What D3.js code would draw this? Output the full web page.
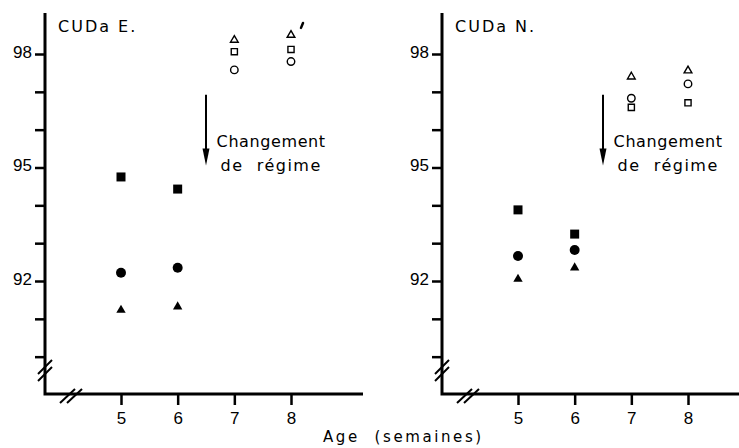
<!DOCTYPE html>
<html>
<head>
<meta charset="utf-8">
<script src="https://cdn.jsdelivr.net/npm/d3@7"></script>
<style>
    body { margin: 0; background: #fff; }
    svg { display: block; font-family: "DejaVu Sans", sans-serif; }
    .axis text { font-size: 17px; fill: #000; }
    .axis line { stroke: #000; stroke-width: 2.5px; }
</style>
</head>
<body>
<div id="chart"></div>
<script>

// age (semaines)
const agesAvant = [5, 6];
const agesApres = [7, 8];
const xTicks = [5, 6, 7, 8];
const yTicks = [90, 91, 92, 93, 94, 95, 96, 97, 98];
const yLabels = [92, 95, 98];
const titres = ["CUDa E.", "CUDa N."];

// CUDa E. - avant changement (symboles pleins)
const E_carre = [94.75, 94.43];
const E_rond = [92.22, 92.35];
const E_triangle = [91.23, 91.32];
// CUDa E. - apres changement (symboles vides)
const E_triangleVide = [98.37, 98.5];
const E_carreVide = [98.06, 98.12];
const E_rondVide = [97.58, 97.8];

// CUDa N.
const N_carre = [93.88, 93.24];
const N_rond = [92.66, 92.82];
const N_triangle = [92.05, 92.35];
const N_triangleVide = [97.4, 97.56];
const N_carreVide = [96.59, 96.71];
const N_rondVide = [96.83, 97.21];

let width = 739, height = 448;

let svg = d3.select("#chart").append("svg")
    .attr("width", width)
    .attr("height", height);

// shared scales (relative to each panel's origin)
let x = d3.scaleLinear().domain([5, 8]).range([76, 246]);
let y = d3.scaleLinear().domain([92, 98]).range([281, 54]);
let yTop = 13, yBottom = 394, xEnd = 318;

function serie(ages, vals, forme, plein) {
    return ages.map((a, i) => ({age: a, val: vals[i], forme: forme, plein: plein}));
}

let panels = [
    {x0: 45, titre: titres[0], points: [].concat(
        serie(agesAvant, E_carre, "carre", true),
        serie(agesAvant, E_rond, "rond", true),
        serie(agesAvant, E_triangle, "triangle", true),
        serie(agesApres, E_triangleVide, "triangle", false),
        serie(agesApres, E_carreVide, "carre", false),
        serie(agesApres, E_rondVide, "rond", false)), trace: true},
    {x0: 442, titre: titres[1], points: [].concat(
        serie(agesAvant, N_carre, "carre", true),
        serie(agesAvant, N_rond, "rond", true),
        serie(agesAvant, N_triangle, "triangle", true),
        serie(agesApres, N_triangleVide, "triangle", false),
        serie(agesApres, N_carreVide, "carre", false),
        serie(agesApres, N_rondVide, "rond", false)), trace: false}
];

let formes = {carre: d3.symbolSquare, rond: d3.symbolCircle, triangle: d3.symbolTriangle};
let taillesPleines = {carre: 81, rond: 78, triangle: 38};
let taillesVides = {carre: 38, rond: 44, triangle: 26};

panels.forEach(function (p) {
    let g = svg.append("g").attr("transform", `translate(${p.x0},0)`);

    // y axis
    let yAxis = d3.axisLeft(y)
        .tickValues(yTicks)
        .tickSize(10)
        .tickPadding(3)
        .tickFormat(d => yLabels.includes(d) ? d : "");
    let ya = g.append("g").attr("class", "axis").call(yAxis);
    ya.select(".domain").remove();
    ya.selectAll("text").attr("dy", "0.19em");

    // x axis
    let xAxis = d3.axisBottom(x)
        .tickValues(xTicks)
        .tickSize(11)
        .tickPadding(7)
        .tickFormat(d3.format("d"));
    let xa = g.append("g").attr("class", "axis")
        .attr("transform", `translate(0,${yBottom})`)
        .call(xAxis);
    xa.select(".domain").remove();

    // axis lines
    g.append("path")
        .attr("d", `M0,${yTop}V${yBottom}H${xEnd}`)
        .attr("fill", "none")
        .attr("stroke", "#000")
        .attr("stroke-width", 3);

    // break marks
    [0, 7].forEach(function (o) {
        g.append("line")
            .attr("x1", -7).attr("y1", 381 - o)
            .attr("x2", 7).attr("y2", 367 - o)
            .attr("stroke", "#000").attr("stroke-width", 2);
        g.append("line")
            .attr("x1", 15 + o).attr("y1", 403)
            .attr("x2", 30 + o).attr("y2", 389)
            .attr("stroke", "#000").attr("stroke-width", 2);
    });

    // title
    g.append("text")
        .attr("x", 13)
        .attr("y", 32)
        .style("font-size", "16px")
        .style("letter-spacing", "2px")
        .style("white-space", "pre")
        .text(p.titre);

    // arrow
    g.append("line")
        .attr("x1", x(6.5)).attr("y1", y(96.92))
        .attr("x2", x(6.5)).attr("y2", y(95.45))
        .attr("stroke", "#000").attr("stroke-width", 2);
    g.append("path")
        .attr("d", `M${x(6.5) - 3.5},${y(95.5)}L${x(6.5) + 3.5},${y(95.5)}L${x(6.5)},${y(95.05)}Z`)
        .attr("fill", "#000");

    g.append("text")
        .attr("x", x(7.65))
        .attr("y", y(95.55))
        .attr("text-anchor", "middle")
        .style("font-size", "16px")
        .style("letter-spacing", "0.6px")
        .text("Changement");
    g.append("text")
        .attr("x", x(7.65))
        .attr("y", y(94.92))
        .attr("text-anchor", "middle")
        .style("font-size", "16px")
        .style("letter-spacing", "1.5px")
        .style("white-space", "pre")
        .text("de  régime");

    // points
    g.selectAll(".pt")
        .data(p.points)
        .enter()
        .append("path")
        .attr("class", "pt")
        .attr("transform", d => `translate(${x(d.age)},${y(d.val)})`)
        .attr("d", d => d3.symbol()
            .type(formes[d.forme])
            .size(d.plein ? taillesPleines[d.forme] : taillesVides[d.forme])())
        .attr("fill", d => d.plein ? "#000" : "none")
        .attr("stroke", d => d.plein ? "none" : "#000")
        .attr("stroke-width", 1.4);

    // small stray stroke in the original
    if (p.trace) {
        g.append("line")
            .attr("x1", x(8) + 10).attr("y1", y(98.69))
            .attr("x2", x(8) + 12).attr("y2", y(98.82))
            .attr("stroke", "#000").attr("stroke-width", 2.5)
            .attr("stroke-linecap", "round");
    }
});

// x axis label
svg.append("text")
    .attr("x", 323)
    .attr("y", 442)
    .style("font-size", "15px")
    .style("letter-spacing", "2.6px")
    .style("white-space", "pre")
    .text("Age  (semaines)");

</script>
</body>
</html>
